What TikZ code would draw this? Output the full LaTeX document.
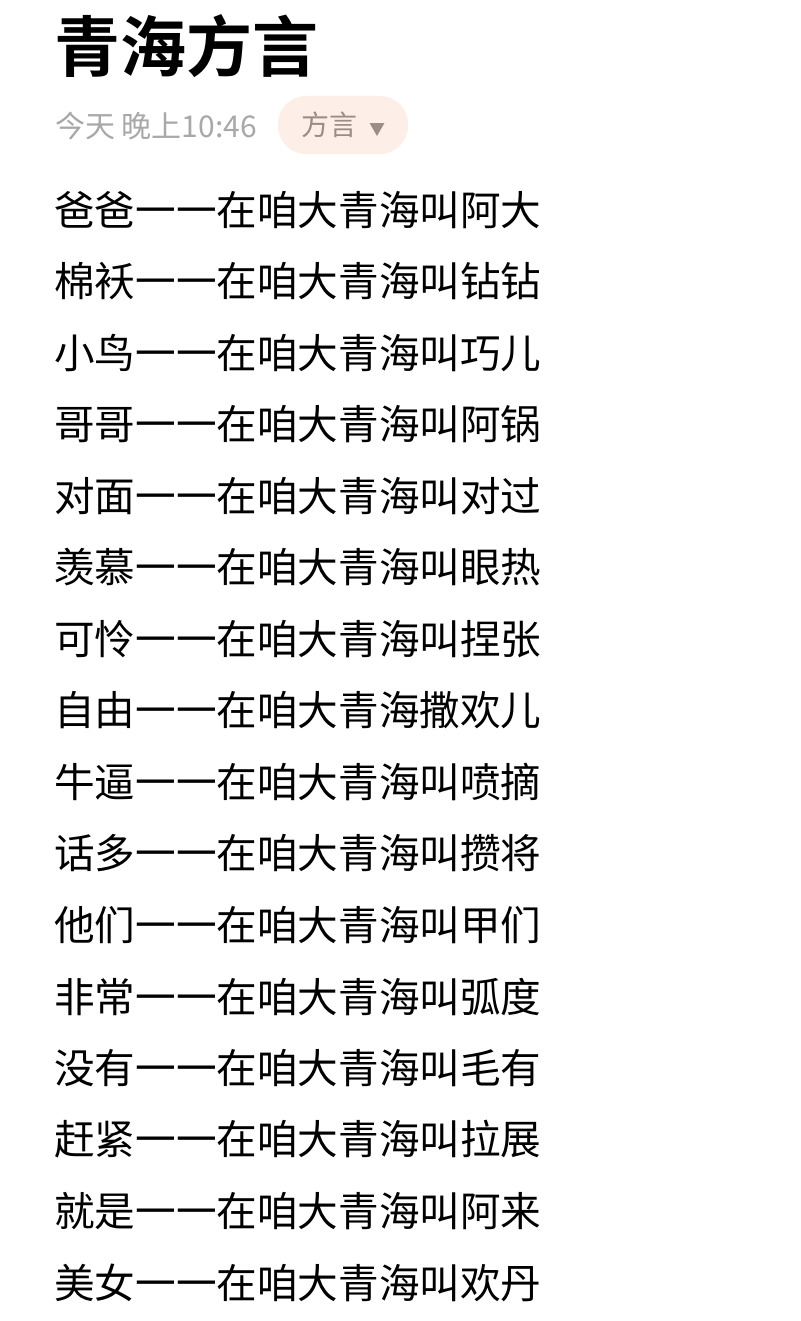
\documentclass[tikz,border=0pt]{standalone}
\usepackage{fontspec}
\newfontfamily\cjk{Noto Sans CJK SC}
\newfontfamily\cjkbold{Noto Sans CJK SC Bold}
\definecolor{graytext}{HTML}{A8A8A8}
\definecolor{tagfill}{HTML}{FDEFE7}
\definecolor{tagtext}{HTML}{9A8C86}
\begin{document}
\begin{tikzpicture}[x=1pt,y=-1pt,font=\cjk]

\tikzset{entry/.style={anchor=west,inner sep=0pt,font=\cjk\fontsize{40.6}{44}\selectfont}}

    \useasboundingbox[fill=white] (0,0) rectangle (800,1321);

    \node[anchor=west,inner sep=0pt,font=\cjkbold\fontsize{66}{68}\selectfont] (title) at (54,46) {青海方言};
    \node[anchor=west,inner sep=0pt,text=graytext,font=\cjk\fontsize{30}{32}\selectfont] (time) at (55,126) {今天 晚上10:46};
    \node[fill=tagfill,rounded corners=28pt,minimum width=130pt,minimum height=58pt,inner sep=0pt,
          text=tagtext,font=\cjk\fontsize{28}{30}\selectfont] (tag) at (343,125) {方言\hspace{12pt}{\fontsize{16}{18}\selectfont▼}};

    \foreach \word [count=\i] in {爸爸一一在咱大青海叫阿大,棉袄一一在咱大青海叫钻钻,小鸟一一在咱大青海叫巧儿,
        哥哥一一在咱大青海叫阿锅,对面一一在咱大青海叫对过,羡慕一一在咱大青海叫眼热,可怜一一在咱大青海叫捏张,
        自由一一在咱大青海撒欢儿,牛逼一一在咱大青海叫喷摘,话多一一在咱大青海叫攒将,他们一一在咱大青海叫甲们,
        非常一一在咱大青海叫弧度,没有一一在咱大青海叫毛有,赶紧一一在咱大青海叫拉展,就是一一在咱大青海叫阿来,
        美女一一在咱大青海叫欢丹}
      \node[entry] (l\i) at (54,{210+71.5*(\i-1)}) {\word};

\end{tikzpicture}
\end{document}
